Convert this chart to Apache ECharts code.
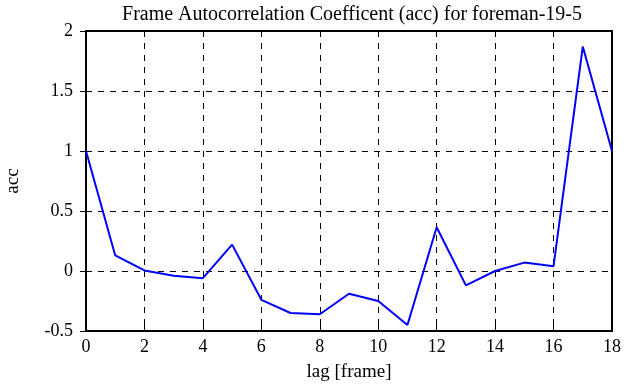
<!DOCTYPE html>
<html>
<head>
<meta charset="utf-8">
<script src="https://cdn.jsdelivr.net/npm/echarts@6/dist/echarts.min.js"></script>
<style>html,body{margin:0;padding:0;background:#fff;}#c{width:635px;height:387px;}</style>
</head>
<body>
<div id="c"></div>
<script>
var lags = [0,1,2,3,4,5,6,7,8,9,10,11,12,13,14,15,16,17,18];
var acc = [1.0,0.13,0.005,-0.04,-0.06,0.22,-0.24,-0.35,-0.36,-0.19,-0.25,-0.45,0.365,-0.12,0.0,0.07,0.04,1.87,1.0];
var titleText = 'Frame Autocorrelation Coefficent (acc) for foreman-19-5';
var xName = 'lag [frame]';
var yName = 'acc';

var F = 'Liberation Serif';
var chart = echarts.init(document.getElementById('c'), null, {renderer:'canvas'});
var pts = lags.map(function(l,i){return [l, acc[i]];});
var tickOnly = {axisLine:{show:false},axisLabel:{show:false},splitLine:{show:false},
  axisTick:{show:true,inside:true,length:6,lineStyle:{color:'#000',width:1}}};
chart.setOption({
  animation:false,
  backgroundColor:'#fff',
  title:{text:titleText,left:347,textAlign:'center',top:0,textStyle:{fontFamily:F,fontSize:20,fontWeight:'normal',color:'#000'}},
  grid:{left:86,right:23,top:31,bottom:56,containLabel:false,outerBoundsMode:'none',show:true,borderColor:'#000',borderWidth:2,backgroundColor:'transparent'},
  xAxis:[{type:'value',min:0,max:18,interval:2,
    name:xName,nameLocation:'middle',nameGap:32,nameTextStyle:{fontFamily:F,fontSize:19,color:'#000'},
    axisLine:{show:true,onZero:false,lineStyle:{color:'#000',width:2}},
    axisTick:{show:true,inside:true,length:6,lineStyle:{color:'#000',width:1}},
    axisLabel:{fontFamily:F,fontSize:18,color:'#000',margin:7},
    splitLine:{show:true,lineStyle:{color:'#000',type:[6,6],width:1}}},
    Object.assign({type:'value',min:0,max:18,interval:2,position:'top'},tickOnly)],
  yAxis:[{type:'value',min:-0.5,max:2,interval:0.5,
    name:yName,nameLocation:'middle',nameGap:63,nameRotate:90,nameTextStyle:{fontFamily:F,fontSize:19,color:'#000'},
    axisLine:{show:true,onZero:false,lineStyle:{color:'#000',width:2}},
    axisTick:{show:true,inside:true,length:6,lineStyle:{color:'#000',width:1}},
    axisLabel:{fontFamily:F,fontSize:18,color:'#000',margin:13},
    splitLine:{show:true,lineStyle:{color:'#000',type:[6,6],width:1}}},
    Object.assign({type:'value',min:-0.5,max:2,interval:0.5,position:'right'},tickOnly)],
  series:[{type:'line',data:pts,showSymbol:false,lineStyle:{color:'#0000ff',width:2},itemStyle:{color:'#0000ff'}}]
});
</script>
</body>
</html>
